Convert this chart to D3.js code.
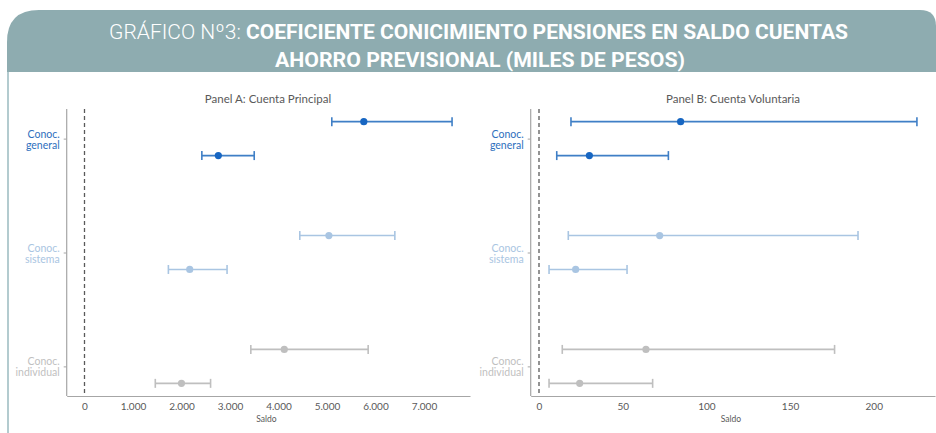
<!DOCTYPE html>
<html>
<head>
<meta charset="utf-8">
<script src="https://cdn.jsdelivr.net/npm/d3@7"></script>
<style>
  body { margin: 0; background: #fff; }
  svg { display: block; }
  .axis path, .axis line { stroke: #a6a6a6; }
  .axis text { fill: #595959; font-family: Lato, "Open Sans", sans-serif; font-size: 10px; }
</style>
</head>
<body>
<div id="chart"></div>
<script>

// categories (y axis) and the rows inside each one (2 rows per category)
var categories = ["Conoc. general", "Conoc. sistema", "Conoc. individual"];
var catColors = ["#2e6fbd", "#a9c5e2", "#bfbfbf"];

// Panel A: Cuenta Principal (pesos)
var principalEst = [5760, 2760, 5040, 2170, 4120, 2000];
var principalMin = [5100, 2420, 4440, 1730, 3430, 1460];
var principalMax = [7580, 3500, 6400, 2940, 5850, 2600];
var principalTicks = [0, 1000, 2000, 3000, 4000, 5000, 6000, 7000];

// Panel B: Cuenta Voluntaria
var voluntariaEst = [84.6, 30.1, 72.1, 21.9, 63.9, 24.3];
var voluntariaMin = [19.1, 10.6, 17.5, 6.0, 13.9, 6.0];
var voluntariaMax = [225.8, 77.3, 190.6, 52.6, 176.6, 67.9];
var voluntariaTicks = [0, 50, 100, 150, 200];

var width = 936;
var height = 433;

var svg = d3.select("#chart")
    .append("svg")
    .attr("width", width)
    .attr("height", height);

/*
HEADER
*/
svg.append("path")
    .attr("d", "M7,72 L7,42 Q7,10 39,10 L920,10 Q936,10 936,26 L936,72 Z")
    .attr("fill", "#8eacb0");

svg.append("line")
    .attr("x1", 8).attr("x2", 8)
    .attr("y1", 72).attr("y2", height)
    .attr("stroke", "#b3cbcf")
    .attr("stroke-width", 2);

var t1 = svg.append("text")
    .attr("x", 109)
    .attr("y", 39)
    .attr("textLength", 739)
    .attr("lengthAdjust", "spacingAndGlyphs")
    .attr("fill", "#fff")
    .style("font-family", "'Liberation Sans Narrow', 'Roboto', sans-serif")
    .style("font-size", "21px");
t1.append("tspan").attr("font-weight", 300).text("GRÁFICO Nº3: ");
t1.append("tspan").attr("font-weight", "bold").text("COEFICIENTE CONICIMIENTO PENSIONES EN SALDO CUENTAS");

svg.append("text")
    .attr("x", 275)
    .attr("y", 67)
    .attr("textLength", 410)
    .attr("lengthAdjust", "spacingAndGlyphs")
    .attr("fill", "#fff")
    .attr("font-weight", "bold")
    .style("font-family", "'Liberation Sans Narrow', 'Roboto', sans-serif")
    .style("font-size", "21px")
    .text("AHORRO PREVISIONAL (MILES DE PESOS)");

/*
PANELS
*/
var fmt = d3.formatLocale({ decimal: ",", thousands: ".", grouping: [3], currency: ["$", ""] }).format(",");

var yScale = d3.scaleLinear()
    .domain([-0.26, 2.26])
    .range([109, 396]);

var rowShift = 0.149; // each category has an upper and lower row

function drawPanel(opts) {
    var xScale = d3.scaleLinear()
        .domain(opts.domain)
        .range([opts.left, opts.right]);

    var g = svg.append("g");

    g.append("text")
        .attr("x", opts.titleX)
        .attr("y", 103)
        .attr("text-anchor", "middle")
        .attr("fill", "#595959")
        .style("font-family", "Lato, 'Open Sans', sans-serif")
        .style("font-size", "11.5px")
        .text(opts.title);

    // x axis
    var xAxis = g.append("g")
        .attr("class", "axis")
        .attr("transform", `translate(0,396)`)
        .call(d3.axisBottom(xScale).tickValues(opts.ticks).tickSize(0).tickPadding(7).tickFormat(opts.format));
    xAxis.select(".domain").attr("stroke-width", 1.2);

    g.append("text")
        .attr("x", xScale(opts.ticks[Math.floor(opts.ticks.length / 2)] ) )
        .attr("y", 422)
        .attr("text-anchor", "middle")
        .attr("fill", "#595959")
        .style("font-family", "Lato, 'Open Sans', sans-serif")
        .style("font-size", "8.5px")
        .text("Saldo")
        .attr("x", (opts.left + opts.right) / 2 - 2);

    // y axis
    var yAxis = g.append("g")
        .attr("class", "axis")
        .attr("transform", `translate(${opts.left},0)`)
        .call(d3.axisLeft(yScale).tickValues([0, 1, 2]).tickSize(3).tickFormat(""));
    yAxis.select(".domain").attr("d", `M-3,109H0V396`).attr("stroke-width", 1.2);
    yAxis.select(".domain").attr("d", `M0,109V396`);

    categories.forEach(function(c, i) {
        var parts = c.split(" ");
        var lab = g.append("text")
            .attr("text-anchor", "end")
            .attr("fill", catColors[i])
            .style("font-family", "Lato, 'Open Sans', sans-serif")
            .style("font-size", "10.5px");
        lab.append("tspan").attr("x", opts.left - 7).attr("y", yScale(i) - 1).text(parts[0]);
        lab.append("tspan").attr("x", opts.left - 7).attr("y", yScale(i) + 10).text(parts[1]);
    });

    // zero reference line
    g.append("line")
        .attr("x1", xScale(0)).attr("x2", xScale(0))
        .attr("y1", 109).attr("y2", 396)
        .attr("stroke", "#595959")
        .attr("stroke-width", 1.3)
        .attr("stroke-dasharray", "4,3");

    var rows = opts.est.map(function(d, i) {
        return { est: d, lo: opts.min[i], hi: opts.max[i], cat: Math.floor(i / 2), sub: i % 2 };
    });
    function rowY(d) { return yScale(d.cat + (d.sub === 0 ? -rowShift : rowShift)); }

    var bars = g.selectAll(".bar")
        .data(rows)
        .enter()
        .append("g")
        .attr("class", "bar");

    bars.append("line")
        .attr("x1", function(d) { return xScale(d.lo); })
        .attr("x2", function(d) { return xScale(d.hi); })
        .attr("y1", rowY).attr("y2", rowY)
        .attr("stroke", function(d) { return d.cat === 0 ? "#3f7fc6" : catColors[d.cat]; })
        .attr("stroke-width", 1.6);

    ["lo", "hi"].forEach(function(k) {
        bars.append("line")
            .attr("x1", function(d) { return xScale(d[k]); })
            .attr("x2", function(d) { return xScale(d[k]); })
            .attr("y1", function(d) { return rowY(d) - 4.5; })
            .attr("y2", function(d) { return rowY(d) + 4.5; })
            .attr("stroke", function(d) { return d.cat === 0 ? "#3f7fc6" : catColors[d.cat]; })
            .attr("stroke-width", 1.6);
    });

    bars.append("circle")
        .attr("cx", function(d) { return xScale(d.est); })
        .attr("cy", rowY)
        .attr("r", 3.6)
        .attr("fill", function(d) { return d.cat === 0 ? "#1766c2" : catColors[d.cat]; });
}

drawPanel({
    title: "Panel A: Cuenta Principal",
    titleX: 268,
    left: 66.7, right: 470,
    domain: [-367, 7950],
    ticks: principalTicks,
    format: fmt,
    est: principalEst, min: principalMin, max: principalMax
});

drawPanel({
    title: "Panel B: Cuenta Voluntaria",
    titleX: 733,
    left: 530.7, right: 935,
    domain: [-4.96, 236.6],
    ticks: voluntariaTicks,
    format: d3.format("d"),
    est: voluntariaEst, min: voluntariaMin, max: voluntariaMax
});

</script>
</body>
</html>
